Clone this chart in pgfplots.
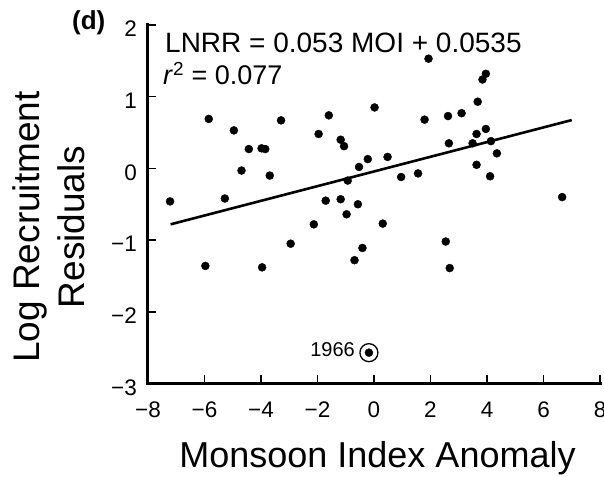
\documentclass[border=0pt]{standalone}
\usepackage{fontspec}
\setmainfont{Liberation Sans}
\usepackage{pgfplots}
\pgfplotsset{compat=1.18}
\begin{document}
\begin{tikzpicture}
\begin{axis}[
  at={(0,0)}, anchor=south west,
  scale only axis, width=452pt, height=358.5pt,
  xmin=-8, xmax=8, ymin=-3, ymax=2,
  axis x line*=bottom, axis y line*=left,
  axis line style={line width=3pt, line cap=rect},
  tick align=inside,
  major tick length=8pt,
  tick style={line width=1.5pt, black},
  xtick={-8,-6,...,8}, xticklabels={−8,−6,−4,−2,0,2,4,6,8},
  ytick={-3,...,2}, yticklabels={−3,−2,−1,0,1,2},
  xticklabel style={font=\fontsize{22.5}{22.5}\selectfont, anchor=base, inner sep=0pt, yshift=-34pt},
  yticklabel style={font=\fontsize{22.5}{22.5}\selectfont, anchor=east, inner sep=0pt, xshift=-11pt, yshift=-4pt},
  clip=false,
]
\addplot[only marks, mark=*, mark size=4pt, black] coordinates {
(-7.22,-0.46) (-5.85,0.69) (-5.97,-1.36) (-5.28,-0.42) (-4.96,0.53)
(-4.69,-0.03) (-4.43,0.27) (-3.98,0.28) (-3.85,0.27) (-3.69,-0.10)
(-3.96,-1.38) (-3.29,0.67) (-2.95,-1.05) (-2.13,-0.78) (-1.96,0.48)
(-1.60,0.74) (-1.71,-0.45) (-1.18,0.40) (-1.06,0.31) (-1.18,-0.43)
(-0.93,-0.17) (-0.97,-0.64) (-0.57,-0.50) (-0.53,0.02) (-0.22,0.13)
(-0.41,-1.11) (-0.69,-1.28) (0.02,0.85) (0.31,-0.77) (0.48,0.16)
(0.96,-0.12) (1.56,-0.07) (1.79,0.68) (1.93,1.53) (2.62,0.73)
(2.65,0.35) (2.54,-1.02) (2.68,-1.39) (3.10,0.77) (3.49,0.35)
(3.63,0.48) (3.67,0.93) (3.63,0.05) (3.84,1.24) (3.96,1.32)
(3.96,0.55) (4.14,0.38) (4.35,0.21) (4.11,-0.11) (6.66,-0.40)
(-0.18,-2.57)
};
\addplot[only marks, mark=o, mark size=9pt, mark options={line width=1.3pt}, black] coordinates {(-0.18,-2.57)};
\addplot[line width=2.6pt, black] coordinates {(-7.2,-0.78) (7.0,0.674)};
\end{axis}
\node[anchor=base west, font=\bfseries\fontsize{26}{26}\selectfont, inner sep=0pt] at (-76pt,353.5pt) {(d)};
\node[anchor=base west, font=\fontsize{28}{28}\selectfont, inner sep=0pt] at (17pt,330.5pt) {LNRR = 0.053 MOI + 0.0535};
\node[anchor=base west, font=\fontsize{27}{27}\selectfont, inner sep=0pt] at (15pt,298.5pt) {\textit{r}\textsuperscript{2} = 0.077};
\node[anchor=base east, font=\fontsize{20}{20}\selectfont, inner sep=0pt] at (207pt,26.5pt) {1966};
\node[anchor=base, rotate=90, font=\fontsize{37}{37}\selectfont, inner sep=0pt] at (-108.5pt,156.5pt) {Log Recruitment};
\node[anchor=base, rotate=90, font=\fontsize{37}{37}\selectfont, inner sep=0pt] at (-63pt,156.5pt) {Residuals};
\node[anchor=base, font=\fontsize{36}{36}\selectfont, inner sep=0pt] at (229.5pt,-83.5pt) {Monsoon Index Anomaly};
\pgfresetboundingbox
\useasboundingbox (-148pt,-92.5pt) rectangle (456pt,383.5pt);
\end{tikzpicture}
\end{document}
